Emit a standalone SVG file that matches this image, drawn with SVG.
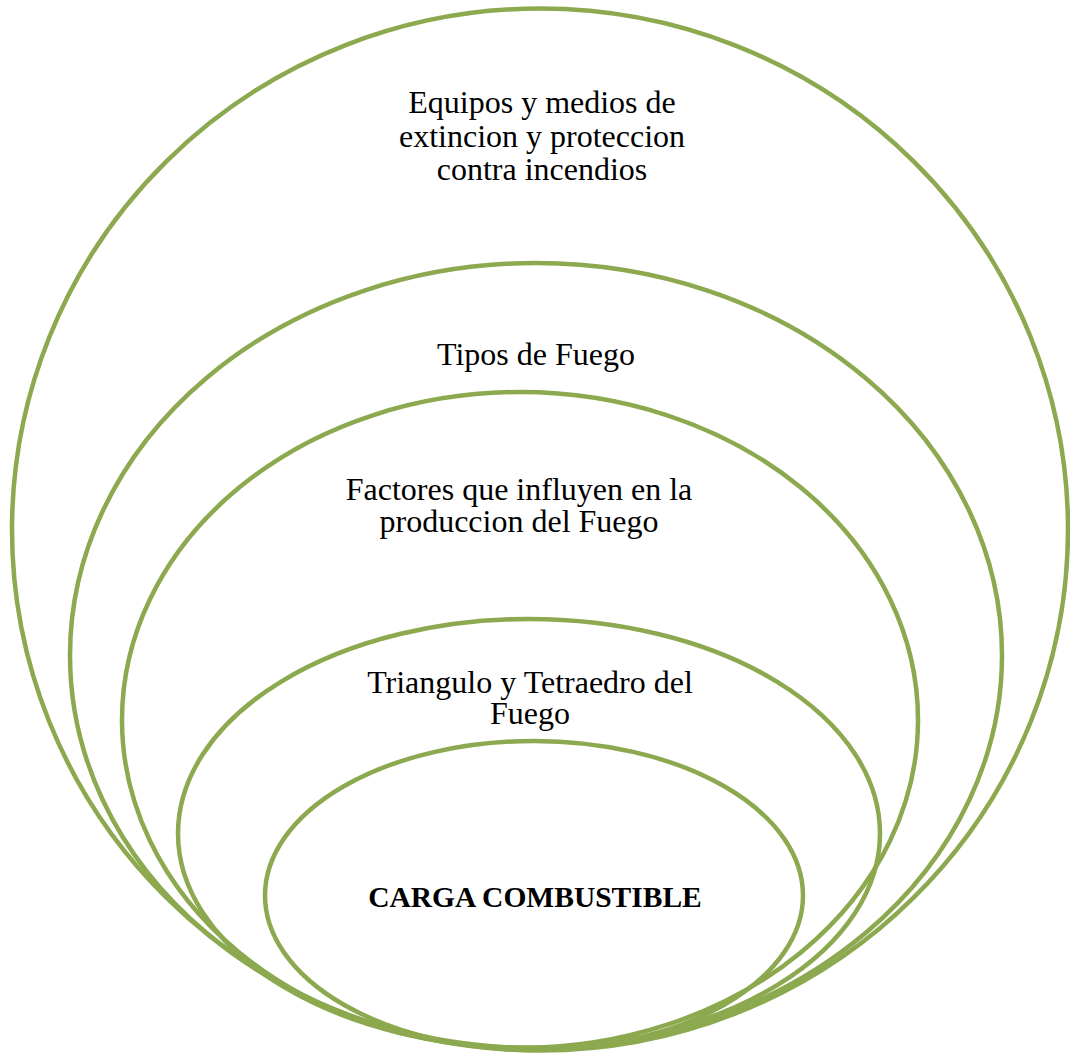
<svg xmlns="http://www.w3.org/2000/svg" width="1070" height="1054" viewBox="0 0 1070 1054">
<style>
.ring{fill:none;stroke:#8CA94F;stroke-width:4.5}
.t{font-family:"Liberation Serif","Times New Roman",serif;font-size:32px;fill:#000;text-anchor:middle}
.b{font-weight:bold;font-size:29.5px}
</style>
<rect width="1070" height="1054" fill="#fff"/>
<g id="n1"><ellipse class="ring" cx="540" cy="529.5" rx="528" ry="521"/>
<text class="t" x="542" y="113">Equipos y medios de</text>
<text class="t" x="542" y="147">extincion y proteccion</text>
<text class="t" x="542" y="180">contra incendios</text></g>
<g id="n2"><ellipse class="ring" cx="536" cy="655.5" rx="466" ry="392.5"/>
<text class="t" x="536" y="365">Tipos de Fuego</text></g>
<g id="n3"><ellipse class="ring" cx="520" cy="720" rx="398" ry="328"/>
<text class="t" x="519" y="500">Factores que influyen en la</text>
<text class="t" x="519" y="532">produccion del Fuego</text></g>
<g id="n4"><ellipse class="ring" cx="529" cy="833.5" rx="351" ry="214.5"/>
<text class="t" x="530" y="693">Triangulo y Tetraedro del</text>
<text class="t" x="530" y="724">Fuego</text></g>
<g id="n5"><ellipse class="ring" cx="534" cy="895.5" rx="269" ry="154.5"/>
<text class="t b" x="535" y="907">CARGA COMBUSTIBLE</text></g>
<g id="connectors"/>
</svg>
